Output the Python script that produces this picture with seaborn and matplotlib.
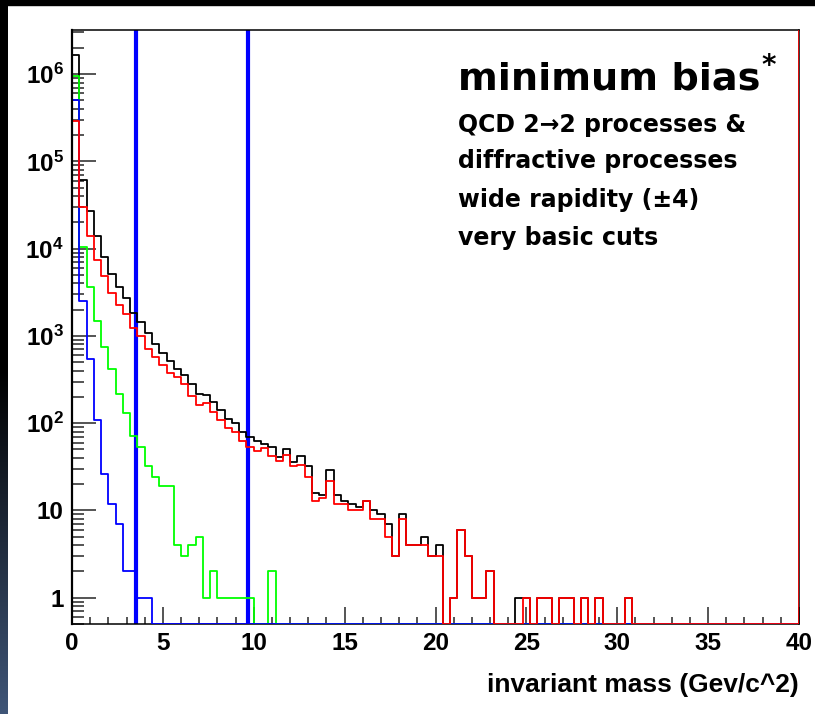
import numpy as np
import pandas as pd
import matplotlib
matplotlib.use("Agg")
import matplotlib.pyplot as plt
import seaborn as sns
from matplotlib.ticker import MultipleLocator, LogLocator, NullFormatter
from matplotlib.patches import Rectangle

# ---------------- data ----------------
hist_range = (0.0, 40.0)
n_bins = 100

black_counts = [1650000, 61000, 27000, 14000, 8100, 5100, 3600, 2700, 1850, 1450,
                1090, 810, 644, 513, 422, 357, 282, 217, 211, 177,
                142, 112, 100, 79, 70, 62, 58, 54, 41, 50,
                36, 42, 32, 16, 15, 29, 15, 13, 12, 11,
                13, 10, 9, 7, 3, 9, 4, 4, 5, 3,
                4, 0, 1, 6, 3, 1, 1, 2, 0, 0,
                0, 1, 1, 0, 1, 1, 0, 1, 1, 0,
                1, 0, 1, 0, 0, 0, 1, 0, 0, 0,
                0, 0, 0, 0, 0, 0, 0, 0, 0, 0,
                0, 0, 0, 0, 0, 0, 0, 0, 0, 0]

red_counts = [290000, 30000, 14000, 7500, 4900, 3100, 2260, 1770, 1220, 1000,
              710, 570, 465, 380, 335, 282, 206, 162, 170, 136,
              109, 88, 80, 62, 54, 48, 52, 42, 37, 43,
              32, 33, 24, 13, 14, 22, 12, 12, 10, 10,
              13, 8, 8, 5, 3, 8, 4, 4, 4, 3,
              3, 0, 1, 6, 3, 1, 1, 2, 0, 0,
              0, 0, 1, 0, 1, 1, 0, 1, 1, 0,
              1, 0, 1, 0, 0, 0, 1, 0, 0, 0,
              0, 0, 0, 0, 0, 0, 0, 0, 0, 0,
              0, 0, 0, 0, 0, 0, 0, 0, 0, 0]

green_counts = [950000, 10400, 3600, 1500, 742, 419, 217, 130, 72, 54,
                32, 24, 19, 19, 4, 3, 4, 5, 1, 2,
                1, 1, 1, 1, 1, 0, 0, 2, 0, 0,
                0, 0, 0, 0, 0, 0, 0, 0, 0, 0,
                0, 0, 0, 0, 0, 0, 0, 0, 0, 0,
                0, 0, 0, 0, 0, 0, 0, 0, 0, 0,
                0, 0, 0, 0, 0, 0, 0, 0, 0, 0,
                0, 0, 0, 0, 0, 0, 0, 0, 0, 0,
                0, 0, 0, 0, 0, 0, 0, 0, 0, 0,
                0, 0, 0, 0, 0, 0, 0, 0, 0, 0]

blue_counts = [510000, 2500, 540, 109, 26, 12, 7, 2, 2, 1,
               1, 0, 0, 0, 0, 0, 0, 0, 0, 0,
               0, 0, 0, 0, 0, 0, 0, 0, 0, 0,
               0, 0, 0, 0, 0, 0, 0, 0, 0, 0,
               0, 0, 0, 0, 0, 0, 0, 0, 0, 0,
               0, 0, 0, 0, 0, 0, 0, 0, 0, 0,
               0, 0, 0, 0, 0, 0, 0, 0, 0, 0,
               0, 0, 0, 0, 0, 0, 0, 0, 0, 0,
               0, 0, 0, 0, 0, 0, 0, 0, 0, 0,
               0, 0, 0, 0, 0, 0, 0, 0, 0, 0]

cut_positions = [3.5, 9.7]

x_ticks = [0, 5, 10, 15, 20, 25, 30, 35, 40]
x_tick_labels = ["0", "5", "10", "15", "20", "25", "30", "35", "40"]
y_ticks = [1, 10, 100, 1000, 10000, 100000, 1000000]
y_tick_labels = ["1", "10", r"$10^{2}$", r"$10^{3}$", r"$10^{4}$", r"$10^{5}$", r"$10^{6}$"]
y_limits = (0.5, 3.2e6)

x_title = "invariant mass (Gev/c^2)"
title_text = "minimum bias"
note_lines = ["QCD 2\u21922 processes &", "diffractive processes",
              "wide rapidity (\u00b14)", "very basic cuts"]

# ---------------- styling ----------------
sns.set_style("white")
plt.rcParams["font.family"] = ["Liberation Sans", "DejaVu Sans"]
plt.rcParams["mathtext.fontset"] = "custom"
plt.rcParams["mathtext.rm"] = "Liberation Sans:bold"
plt.rcParams["mathtext.it"] = "Liberation Sans:bold"
plt.rcParams["mathtext.bf"] = "Liberation Sans:bold"

W, H = 815, 714
fig = plt.figure(figsize=(W / 100, H / 100), dpi=100, facecolor="white")

# dark frame decoration (top bar + left gradient strip)
fig.patches.append(Rectangle((0, 1 - 5 / H), 1, 5 / H, transform=fig.transFigure,
                             color="black", zorder=10))
ax_strip = fig.add_axes([0, 0, 7 / W, 1])
rows = np.arange(H)
t = np.clip((rows - 370) / (H - 370), 0, 1)[:, None]
base = np.array([64, 86, 120]) / 255.0
grad = (t[..., None] * base[None, None, :])
ax_strip.imshow(grad, aspect="auto", extent=(0, 1, 0, 1), origin="upper")
ax_strip.axis("off")

ax = fig.add_axes([72 / W, 1 - 624 / H, (799 - 72) / W, (624 - 30) / H])
ax.set_facecolor("white")
ax.set_yscale("log")

edges = np.linspace(hist_range[0], hist_range[1], n_bins + 1)


def step_frame(counts):
    c = np.clip(np.asarray(counts, dtype=float), y_limits[0], None)
    xs = np.concatenate([[edges[0]], edges])
    ys = np.concatenate([[y_limits[0]], c, [c[-1]]])
    return pd.DataFrame({"x": xs, "y": ys})


for xc in cut_positions:
    ax.axvline(xc, color="#0000ff", lw=3.0, zorder=1.5)

series = [(black_counts, "black", 2.0), (green_counts, "#00ff00", 3.0),
          (blue_counts, "#0000ff", 3.5), (red_counts, "#ff0000", 4.0)]
for counts, col, z in series:
    sns.lineplot(data=step_frame(counts), x="x", y="y", drawstyle="steps-post",
                 estimator=None, sort=False, color=col, lw=1.3, ax=ax, zorder=z)

ax.axvline(hist_range[1], color="#ff0000", lw=1.2, zorder=6)

ax.set_xlim(hist_range)
ax.set_ylim(y_limits)

ax.set_xticks(x_ticks)
ax.set_xticklabels(x_tick_labels)
ax.xaxis.set_minor_locator(MultipleLocator(1))
ax.set_yticks(y_ticks)
ax.set_yticklabels(y_tick_labels)
ax.yaxis.set_minor_locator(LogLocator(base=10, subs=np.arange(2, 10)))
ax.yaxis.set_minor_formatter(NullFormatter())

ax.tick_params(axis="x", which="major", direction="in", length=12, width=1.1,
               pad=6, labelsize=17.5, top=False, bottom=True)
ax.tick_params(axis="x", which="minor", direction="in", length=5, width=1.1,
               top=False, bottom=True)
ax.tick_params(axis="y", which="major", direction="in", length=17, width=1.1,
               pad=6, labelsize=17.5, left=True, right=False)
ax.tick_params(axis="y", which="minor", direction="in", length=8.5, width=1.1,
               left=True, right=False)
for lab in ax.get_xticklabels() + ax.get_yticklabels():
    lab.set_fontweight("bold")
    lab.set_color("black")

for s in ax.spines.values():
    s.set_visible(True)
    s.set_color("black")
    s.set_linewidth(1.1)
ax.spines["left"].set_zorder(10)
ax.spines["left"].set_linewidth(1.6)

ax.set_xlabel(x_title, loc="right", fontsize=19, fontweight="bold", labelpad=13,
              color="black")
ax.set_ylabel("")

# annotation block
t1 = fig.text(458 / W, 1 - 90 / H, title_text, fontsize=27.5, fontweight="bold",
              family="DejaVu Sans", va="baseline", ha="left", color="black")
fig.canvas.draw()
bb = t1.get_window_extent()
fig.text((bb.x1 + 1) / W, 1 - 74 / H, "*", fontsize=20, fontweight="bold",
         family="DejaVu Sans", va="baseline", ha="left", color="black")
baselines = [131.7, 168.3, 206.7, 245]
for line, yb in zip(note_lines, baselines):
    fig.text(458 / W, 1 - yb / H, line, fontsize=17, fontweight="bold",
             family="DejaVu Sans", va="baseline", ha="left", color="black")

fig.savefig("out.png", dpi=100, facecolor="white")
